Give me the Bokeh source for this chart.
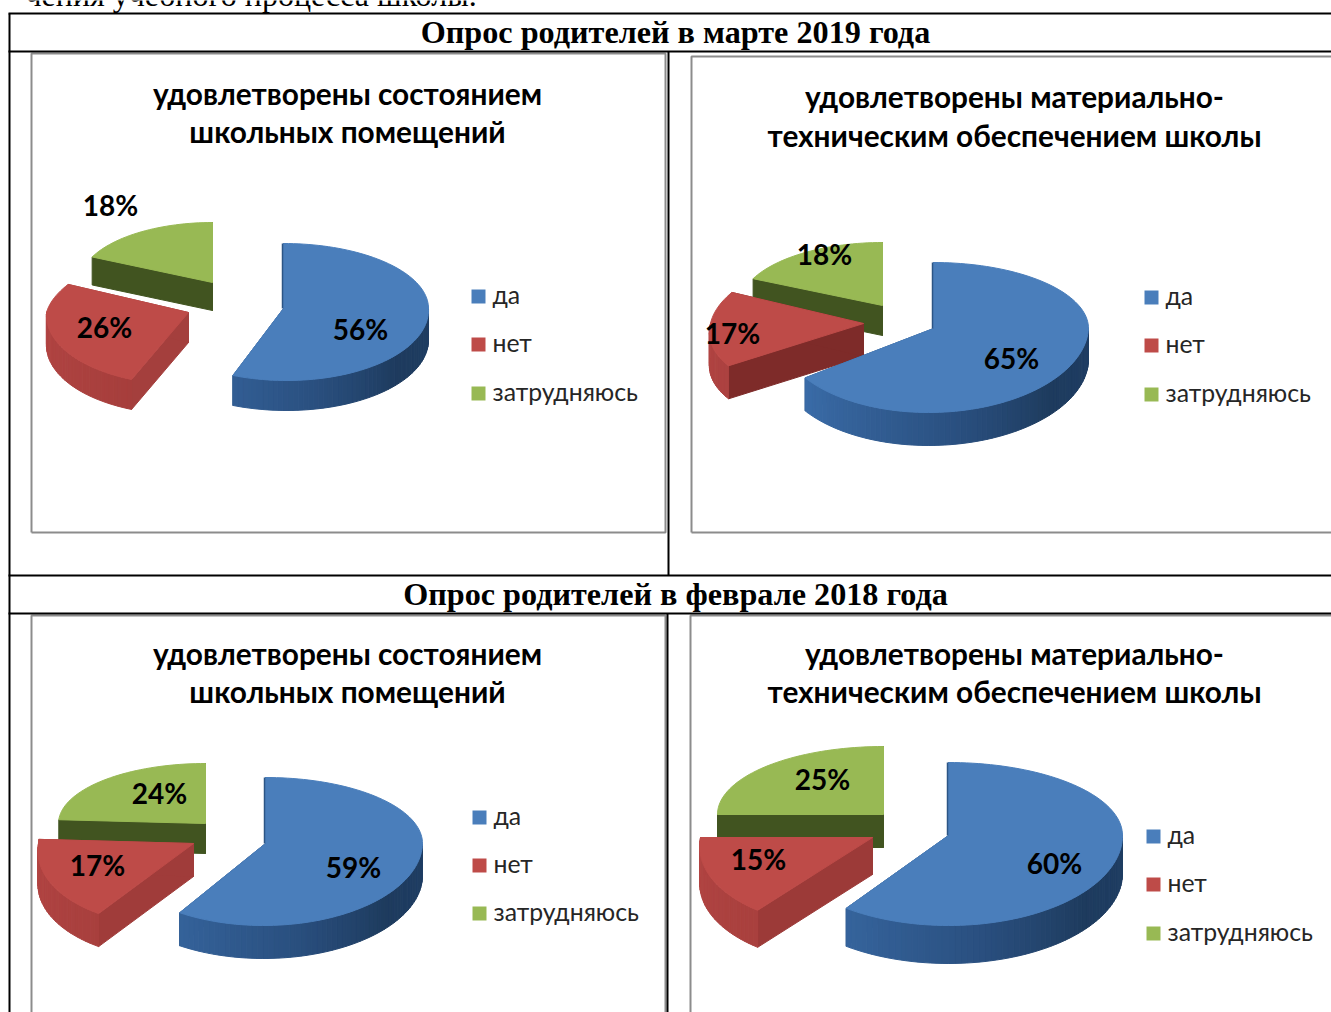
import math
from bokeh.plotting import figure
from bokeh.embed import file_html
from bokeh.resources import INLINE
from bokeh.core.properties import value

# ---- data ----
categories = ["да", "нет", "затрудняюсь"]
march_rooms = [56, 26, 18]
march_equipment = [65, 17, 18]
february_rooms = [59, 17, 24]
february_equipment = [60, 15, 25]
title_rooms = ["удовлетворены состоянием", "школьных помещений"]
title_equipment = ["удовлетворены материально-", "техническим обеспечением школы"]
header_march = "Опрос родителей в марте 2019 года"
header_february = "Опрос родителей в феврале 2018 года"
page_line = "чения учебного процесса школы."

# ---- style and layout ----
TOP = ["#4a7ebb", "#be4b48", "#98b954"]
CUT = ["#2c5585", None, "#415420"]
BLUE_RIM = [(90, "#1f3e64"), (130, "#1e3b5e"), (170, "#2a5080"), (235, "#3a6ca8")]
RED_RIM = [(90, "#8e3533"), (200, "#a63e3c"), (270, "#b24543")]
GREEN_RIM = [(90, "#415420"), (270, "#415420")]
RIMS = [BLUE_RIM, RED_RIM, GREEN_RIM]
BODY = "Lato"
SERIF = "Liberation Serif"

# per slice: apex x, apex y, rx, ry back, ry front, depth, front shear, back shear
CHARTS = [
    dict(values=march_rooms, title=title_rooms, tx=347, ty=(95, 133),
         slices=[(283, 308, 145, 65, 72, 30, -3, 0), (188, 312, 142, 66, 72, 30, 5, 19), (212, 282, 133, 60, 66, 28, 0, 0)],
         red_cut="#a43f3d",
         legend=(471, (296, 344, 393)),
         labels=[(360, 330), (104, 328), (110, 206)]),
    dict(values=march_equipment, title=title_equipment, tx=1014, ty=(98, 137),
         slices=[(933, 328, 155, 66, 84, 33, 5, 0), (863, 323, 153, 73, 72, 33, 19, 16), (882, 305, 143, 63, 70, 30, 0, 0)],
         red_cut="#7e2b29",
         legend=(1144, (297, 345, 394)),
         labels=[(1011, 359), (732, 334), (824, 255)]),
    dict(values=february_rooms, title=title_rooms, tx=347, ty=(655, 693),
         slices=[(265, 843, 157, 66, 82, 33, 2, 0), (193, 843, 155, 66, 83, 33, 14, 0), (205, 823, 147, 60, 70, 30, 0, 0)],
         red_cut="#a03c3a",
         legend=(472, (817, 865, 913)),
         labels=[(353, 868), (97, 866), (159, 794)]),
    dict(values=february_equipment, title=title_equipment, tx=1014, ty=(655, 693),
         slices=[(948, 835, 174, 73, 90, 38, 0, 0), (872, 837, 172, 73, 90, 37, 17, 0), (883, 814, 166, 68, 76, 33, 0, 0)],
         red_cut="#9c3a38",
         legend=(1146, (836, 884, 933)),
         labels=[(1054, 864), (758, 860), (822, 780)]),
]

p = figure(width=1331, height=1012, x_range=(0, 1331), y_range=(1012, 0),
           output_backend="svg", toolbar_location=None, min_border=0,
           x_axis_type=None, y_axis_type=None, outline_line_color=None,
           background_fill_color="white", border_fill_color="white")
p.grid.visible = False


def hex2rgb(c):
    return tuple(int(c[i:i + 2], 16) for i in (1, 3, 5))


def ramp(stops, a):
    if a <= stops[0][0]:
        return stops[0][1]
    for (a0, c0), (a1, c1) in zip(stops, stops[1:]):
        if a <= a1:
            t = (a - a0) / (a1 - a0)
            r0, r1 = hex2rgb(c0), hex2rgb(c1)
            return "#%02x%02x%02x" % tuple(round(x + (y - x) * t) for x, y in zip(r0, r1))
    return stops[-1][1]


def point(geo, a):
    ax, ay, rx, ryb, ryf, _, kf, kb = geo
    s, c = math.sin(math.radians(a)), math.cos(math.radians(a))
    shear = kb * c if c > 0 else kf * c
    return ax + rx * s + shear, ay - (ryb if c > 0 else ryf) * c


def slice3d(geo, a0, a1, top, cut, rim):
    ax, ay, d = geo[0], geo[1], geo[5]
    xs, ys, cols = [], [], []
    for a in (a0, a1):
        if cut:
            x, y = point(geo, a)
            xs.append([ax, x, x, ax])
            ys.append([ay, y, y + d, ay + d])
            cols.append(cut)
    n = max(2, int((a1 - a0) / 2))
    arc = [a0 + (a1 - a0) * i / n for i in range(n + 1)]
    for b0, b1 in zip(arc, arc[1:]):
        if 90 <= (b0 + b1) / 2 <= 270:
            x0, y0 = point(geo, b0)
            x1, y1 = point(geo, b1)
            xs.append([x0, x1, x1, x0])
            ys.append([y0, y1, y1 + d, y0 + d])
            cols.append(ramp(rim, (b0 + b1) / 2))
    if xs:
        p.patches(xs, ys, fill_color=cols, line_color=cols, line_width=1)
    pts = [point(geo, a) for a in arc]
    p.patch([ax] + [q[0] for q in pts], [ay] + [q[1] for q in pts],
            fill_color=top, line_color=top, line_width=1)


def label(x, y, s, size, font, style="normal", color="#000000", align="center"):
    p.text([x], [y - 2], text=[s], text_font=value(font), text_font_size=f"{size}px",
           text_font_style=style, text_color=color, text_align=align, text_baseline="middle")


# grey chart frames
for x0, x1, y0, y1 in [(31, 665, 53, 532), (691, 1340, 56, 532), (31, 665, 615, 1030), (690, 1340, 615, 1030)]:
    p.line([x0, x0, x1, x1, x0], [y1, y0, y0, y1, y1], line_color="#8c8c8c", line_width=2)

# table rules
for xs_, ys_ in [([9, 9], [13, 1012]), ([8, 1331], [13, 13]), ([8, 1331], [51, 51]),
                 ([668, 668], [51, 575]), ([8, 1331], [575, 575]), ([8, 1331], [613, 613]),
                 ([667, 667], [613, 1012])]:
    p.line(xs_, ys_, line_color="#000000", line_width=2)

for c in CHARTS:
    shares = [v / sum(c["values"]) * 360 for v in c["values"]]
    starts = [sum(shares[:i]) for i in range(3)]
    for i in (2, 1, 0):
        cut = c["red_cut"] if i == 1 else CUT[i]
        slice3d(c["slices"][i], starts[i], starts[i] + shares[i], TOP[i], cut, RIMS[i])
    # thin shaded edge of the large slice
    g = c["slices"][0]
    tx_, ty_ = point(g, 0)
    p.line([tx_ - 1, g[0] - 1], [ty_, g[1]], line_color=CUT[0], line_width=1.5)
    for (x, y), v in zip(c["labels"], c["values"]):
        label(x, y, f"{v}%", 28, BODY, "bold")
    for s, y in zip(c["title"], c["ty"]):
        label(c["tx"], y, s, 29.8, BODY, "bold")
    lx, lys = c["legend"]
    for i, (name, y) in enumerate(zip(categories, lys)):
        p.quad(left=[lx], right=[lx + 14], top=[y - 7], bottom=[y + 7], fill_color=TOP[i], line_color=None)
        label(lx + 21, y, name, 24.8, BODY, "normal", "#262626", "left")

label(675, 33, header_march, 32.2, SERIF, "bold")
label(675, 595, header_february, 32.2, SERIF, "bold")
p.text([25], [-6], text=[page_line], text_font=value(SERIF), text_font_size="32px",
       text_color="#000000", text_align="left", text_baseline="alphabetic")

open("out.html", "w").write(file_html(p, INLINE))
